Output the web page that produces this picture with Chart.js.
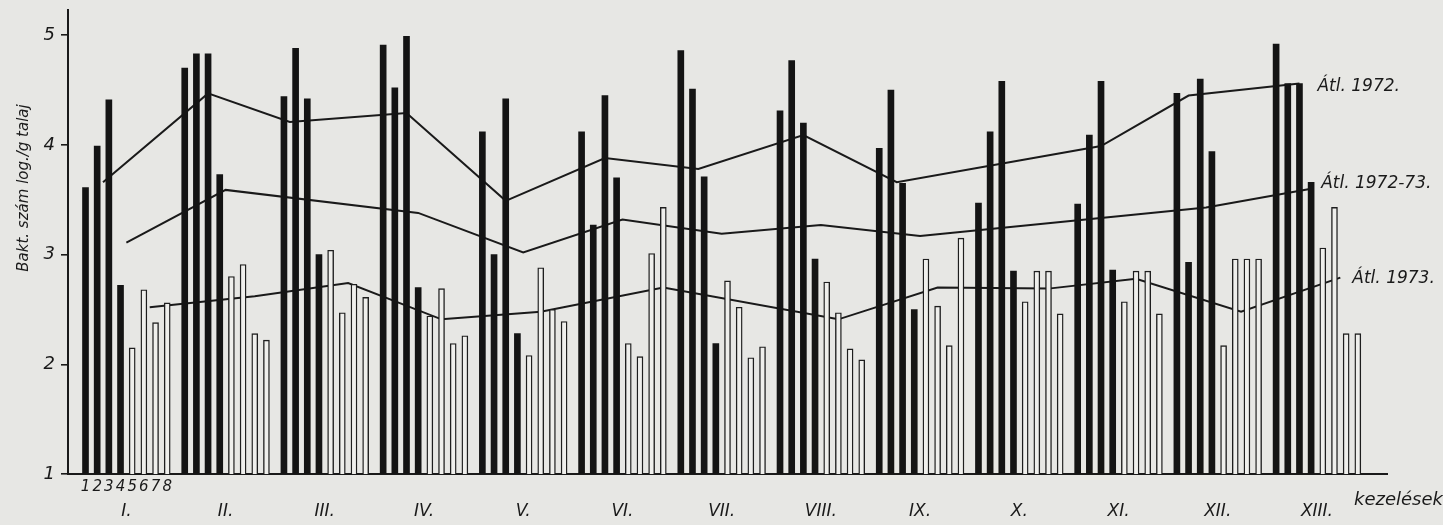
<!DOCTYPE html>
<html>
<head>
<meta charset="utf-8">
<script src="https://cdn.jsdelivr.net/npm/chart.js@4.4.1/dist/chart.umd.min.js"></script>
<style>
  html, body { margin: 0; padding: 0; background: #e7e7e4; }
  #wrap { width: 1443px; height: 525px; }
</style>
</head>
<body>
<div id="wrap"><canvas id="baktChart" width="1443" height="525"></canvas></div>
<script>
// kezelések (treatments) and the bar numbers inside a treatment
const treatments = ['I.', 'II.', 'III.', 'IV.', 'V.', 'VI.', 'VII.', 'VIII.', 'IX.', 'X.', 'XI.', 'XII.', 'XIII.'];
const barNumbers = ['1', '2', '3', '4', '5', '6', '7', '8'];
const yTicks = [1, 2, 3, 4, 5];

// bars 1-4 of every treatment (1972, black)
const bakt1972 = [
  3.61, 3.99, 4.41, 2.72,
  4.70, 4.83, 4.83, 3.73,
  4.44, 4.88, 4.42, 3.00,
  4.91, 4.52, 4.99, 2.70,
  4.12, 3.00, 4.42, 2.28,
  4.12, 3.27, 4.45, 3.70,
  4.86, 4.51, 3.71, 2.19,
  4.31, 4.77, 4.20, 2.96,
  3.97, 4.50, 3.65, 2.50,
  3.47, 4.12, 4.58, 2.85,
  3.46, 4.09, 4.58, 2.86,
  4.47, 2.93, 4.60, 3.94,
  4.92, 4.56, 4.56, 3.66
];

// bars 5-8 of every treatment (1973, white)
const bakt1973 = [
  2.15, 2.68, 2.38, 2.56,
  2.80, 2.91, 2.28, 2.22,
  3.04, 2.47, 2.73, 2.61,
  2.44, 2.69, 2.19, 2.26,
  2.08, 2.88, 2.50, 2.39,
  2.19, 2.07, 3.01, 3.43,
  2.76, 2.52, 2.06, 2.16,
  2.75, 2.47, 2.14, 2.04,
  2.96, 2.53, 2.17, 3.15,
  2.57, 2.85, 2.85, 2.46,
  2.57, 2.85, 2.85, 2.46,
  2.17, 2.96, 2.96, 2.96,
  3.06, 3.43, 2.28, 2.28
];

// average lines: position along the treatment axis (in slots) and value
const avg1972At = [3, 21, 35, 55, 72, 89, 105, 123, 139, 174, 189, 208];
const avg1972 = [3.66, 4.47, 4.21, 4.29, 3.49, 3.88, 3.78, 4.09, 3.66, 3.99, 4.45, 4.56];
const avg7273At = [7, 24, 57, 75, 92, 109, 126, 143, 192, 210];
const avg7273 = [3.11, 3.59, 3.38, 3.02, 3.32, 3.19, 3.27, 3.17, 3.43, 3.60];
const avg1973At = [11, 29, 45, 61, 78, 99, 129, 146, 165, 180, 198, 215];
const avg1973 = [2.52, 2.62, 2.74, 2.41, 2.48, 2.70, 2.41, 2.70, 2.69, 2.78, 2.48, 2.79];

const lineNames = ['Átl. 1972.', 'Átl. 1972-73.', 'Átl. 1973.'];

// slot layout: 2 slots per bar, one extra between treatments
const LEAD = 3, PER_GROUP = 17, TOTAL = 227;
const slot = (g, b) => LEAD + g * PER_GROUP + 2 * b;

const labels = new Array(TOTAL).fill('');
const blackBars = new Array(TOTAL).fill(null);
const whiteBars = new Array(TOTAL).fill(null);
treatments.forEach((t, g) => {
  for (let k = 0; k < 4; k++) {
    blackBars[slot(g, k)] = bakt1972[g * 4 + k];
    whiteBars[slot(g, k + 4)] = bakt1973[g * 4 + k];
  }
});

function sparse(at, values) {
  const arr = new Array(TOTAL).fill(null);
  at.forEach((s, i) => { arr[LEAD + s] = values[i]; });
  return arr;
}

const FONT = '"DejaVu Sans", sans-serif';
const INK = '#1a1a1a';

function xLabel(index) {
  const rel = index - LEAD;
  if (rel < 0) return '';
  const g = Math.floor(rel / PER_GROUP), r = rel - g * PER_GROUP;
  if (g >= treatments.length) return '';
  if (r === 7) return ['', treatments[g]];
  if (g === 0 && r % 2 === 0 && r <= 14) return barNumbers[r / 2];
  return '';
}

const lineLabels = {
  id: 'lineLabels',
  afterDatasetsDraw(chart) {
    const { ctx } = chart;
    const offsets = [[18, 3], [10, -5], [12, 1]];
    ctx.save();
    ctx.fillStyle = INK;
    ctx.textBaseline = 'middle';
    ctx.textAlign = 'left';
    ctx.font = 'italic 17px ' + FONT;
    [avg1972At, avg7273At, avg1973At].forEach((at, i) => {
      const pt = chart.getDatasetMeta(i + 2).data[LEAD + at[at.length - 1]];
      ctx.fillText(lineNames[i], pt.x + offsets[i][0], pt.y + offsets[i][1]);
    });

    // axis titles
    ctx.font = 'italic 18px ' + FONT;
    ctx.fillText('kezelések', 1354, 500);
    ctx.translate(24, 188);
    ctx.rotate(-Math.PI / 2);
    ctx.textAlign = 'center';
    ctx.font = 'italic 15px ' + FONT;
    ctx.fillText('Bakt. szám log./g talaj', 0, 0);
    ctx.restore();
  }
};

const lineStyle = {
  type: 'line',
  borderColor: INK,
  borderWidth: 2,
  pointRadius: 0,
  tension: 0,
  spanGaps: true,
  fill: false
};

new Chart(document.getElementById('baktChart'), {
  type: 'bar',
  data: {
    labels: labels,
    datasets: [
      {
        label: '1972',
        data: blackBars,
        backgroundColor: '#141414',
        barThickness: 6,
        grouped: false,
        skipNull: true
      },
      {
        label: '1973',
        data: whiteBars,
        backgroundColor: '#efefec',
        borderColor: '#1e1e1e',
        borderWidth: 1.4,
        barThickness: 6,
        grouped: false,
        skipNull: true
      },
      { ...lineStyle, label: lineNames[0], data: sparse(avg1972At, avg1972) },
      { ...lineStyle, label: lineNames[1], data: sparse(avg7273At, avg7273) },
      { ...lineStyle, label: lineNames[2], data: sparse(avg1973At, avg1973) }
    ]
  },
  options: {
    responsive: false,
    animation: false,
    layout: { padding: { top: 10, right: 56, left: 0, bottom: 0 } },
    plugins: {
      legend: { display: false },
      tooltip: { enabled: false }
    },
    scales: {
      x: {
        offset: false,
        afterFit: s => { s.height = 51; s.paddingLeft = 0; s.paddingRight = 0; },
        grid: { display: true, drawOnChartArea: false, drawTicks: false },
        border: { color: INK, width: 2 },
        ticks: {
          autoSkip: false,
          maxRotation: 0,
          minRotation: 0,
          padding: 4,
          color: INK,
          font: c => {
            const rel = c.index - LEAD;
            return (rel % PER_GROUP === 7)
              ? { family: FONT, size: 17, style: 'italic', lineHeight: 1.33 }
              : { family: FONT, size: 15, style: 'italic', lineHeight: 1.2 };
          },
          callback: (value, index) => xLabel(index)
        }
      },
      y: {
        min: 1,
        max: 5.23,
        afterBuildTicks: s => { s.ticks = yTicks.map(v => ({ value: v })); },
        afterFit: s => { s.width = 68; s.paddingTop = 0; s.paddingBottom = 0; },
        grid: { drawOnChartArea: false, drawTicks: true, tickLength: 7, color: INK, lineWidth: 1.6 },
        border: { color: INK, width: 2 },
        ticks: {
          padding: 6,
          color: INK,
          font: { family: FONT, size: 18, style: 'italic' }
        }
      }
    }
  },
  plugins: [lineLabels]
});
</script>
</body>
</html>
